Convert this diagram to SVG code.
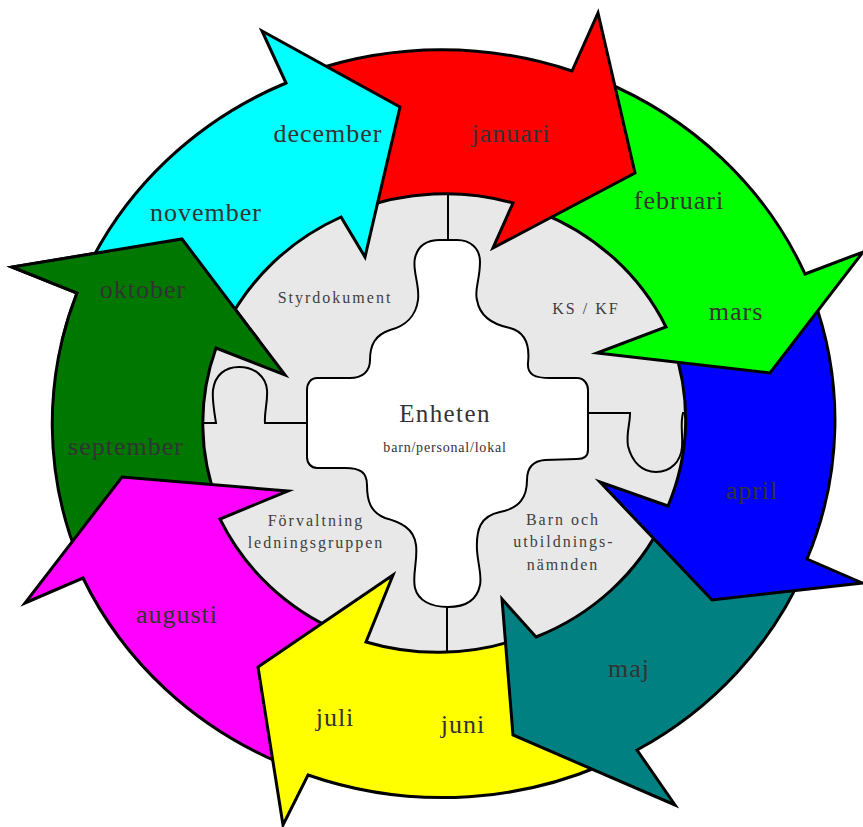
<svg xmlns="http://www.w3.org/2000/svg" width="863" height="827" viewBox="0 0 863 827">
<style>
.arrow{stroke:#000;stroke-width:3;stroke-linejoin:miter;stroke-miterlimit:12}
.month{font-family:"Liberation Serif","Times New Roman",serif;font-size:26px;letter-spacing:1px;fill:#333;text-anchor:middle}
.lbl{font-family:"Liberation Serif","Times New Roman",serif;font-size:16px;letter-spacing:2px;fill:#404040;text-anchor:middle}
.puz{fill:none;stroke:#000;stroke-width:2}
</style>
<defs>
<clipPath id="clipTop"><rect x="0" y="180" width="300" height="160"/></clipPath>
</defs>
<rect width="863" height="827" fill="#fff"/>
<g id="disk">
<ellipse cx="445" cy="424" rx="244" ry="233" fill="#e8e8e8"/>
<path class="puz" d="M448,193 L448,240"/>
<path class="puz" d="M447,607 L447,656"/>
<path class="puz" d="M201,423 L216,423 C214,410 212,400 213,390 C215,375 225,367 239,367 C255,367 266,377 267,390 C268,402 264,412 265,423 L308,423"/>
<path class="puz" d="M588,413 L630,413 C630,425 626,433 628,446 C632,462 642,472 656,472 C671,472 681,461 682,447 C683,434 680,424 683,413 L689,413"/>
</g>
<g id="enheten">
<path fill="#fff" stroke="#000" stroke-width="2" d="M418,300 C420,285 412,270 415,258 C418,245 428,240 440,240 L457,240 C470,240 480,248 480,262 C480,280 474,290 477,300 C480,318 495,325 510,328 C525,332 530,345 528,363 C527,375 535,378 550,378 L577,378 C584,378 588,384 588,390 L588,450 C588,456 584,459 577,459 L545,460 C532,461 527,468 527,480 C527,497 520,508 500,512 C480,516 476,530 477,550 C478,565 482,575 480,585 C477,600 465,607 448,607 C430,607 418,600 415,588 C412,575 418,560 416,545 C414,528 400,522 385,518 C370,512 367,500 367,485 C367,472 360,468 345,468 L317,468 C311,468 307,463 307,457 L307,390 C307,383 311,378 317,378 L350,378 C362,378 370,372 370,360 C370,345 375,335 390,330 C405,326 416,316 418,300 Z"/>
</g>
<g id="connectors">
<path id="aOkt" class="arrow" fill="#007800" d="M79.2,560 A392,374 0 0 1 77,293 L12,267 L182,239 L285,375 L216,348 A242,231 0 0 0 218.4,505 Z"/>
<path id="aAug" class="arrow" fill="#ff00ff" d="M285,765 A392,374 0 0 1 83,578 L25,603 L122,477 L288,491 L220,519 A242,231 0 0 0 340,632 Z"/>
<path id="aJun" class="arrow" fill="#ffff00" d="M600,766 A392,374 0 0 1 308,775 L283,825 L258,667 L393,575 L366,642 A242,231 0 0 0 515,640.2 Z"/>
<path id="aMaj" class="arrow" fill="#008080" d="M805,568.7 A392,374 0 0 1 637,750 L675,805 L513,735 L502,599 L536,637 A242,231 0 0 0 663.5,520 Z"/>
<path id="aApr" class="arrow" fill="#0000ff" d="M812.3,295 A392,374 0 0 1 807,559 L862,583 L712,600 L600,482 L668,506 A242,231 0 0 0 672.8,345 Z"/>
<path id="aFeb" class="arrow" fill="#00ff00" d="M600,80 A392,374 0 0 1 805,274 L863,252 L770,373 L597,353 L666,327 A242,231 0 0 0 540,212.3 Z"/>
<path id="aJan" class="arrow" fill="#ff0000" d="M310,71.5 A392,374 0 0 1 572,71 L598,13 L635,173 L493,248 L513,203 A242,231 0 0 0 355,210.4 Z"/>
<path id="aDec" class="arrow" fill="#00ffff" d="M84.3,275 A392,374 0 0 1 286,83 L262,31 L400,107 L365,257 L341,217 A242,231 0 0 0 224,330 Z"/>
<use href="#aOkt" clip-path="url(#clipTop)"/>
</g>
<g id="labels">
<text class="month" x="328" y="142">december</text>
<text class="month" x="511" y="142">januari</text>
<text class="month" x="679" y="209">februari</text>
<text class="month" x="736" y="320">mars</text>
<text class="month" x="752" y="499">april</text>
<text class="month" x="629" y="677">maj</text>
<text class="month" x="463" y="733">juni</text>
<text class="month" x="335" y="726">juli</text>
<text class="month" x="177" y="623">augusti</text>
<text class="month" x="126" y="455">september</text>
<text class="month" x="143" y="298">oktober</text>
<text class="month" x="206" y="221">november</text>
<text class="lbl" x="335" y="303">Styrdokument</text>
<text class="lbl" x="586" y="314">KS / KF</text>
<text class="lbl" x="316" y="526">Förvaltning</text>
<text class="lbl" x="316" y="548">ledningsgruppen</text>
<text class="lbl" x="563" y="525">Barn och</text>
<text class="lbl" x="564" y="547">utbildnings-</text>
<text class="lbl" x="563" y="570">nämnden</text>
<text x="445" y="422" font-family="'Liberation Serif','Times New Roman',serif" font-size="25" letter-spacing="1.4" fill="#333" text-anchor="middle">Enheten</text>
<text x="445" y="452" font-family="'Liberation Serif','Times New Roman',serif" font-size="14" letter-spacing="0.8" fill="#333" text-anchor="middle">barn/personal/lokal</text>
</g>
</svg>
